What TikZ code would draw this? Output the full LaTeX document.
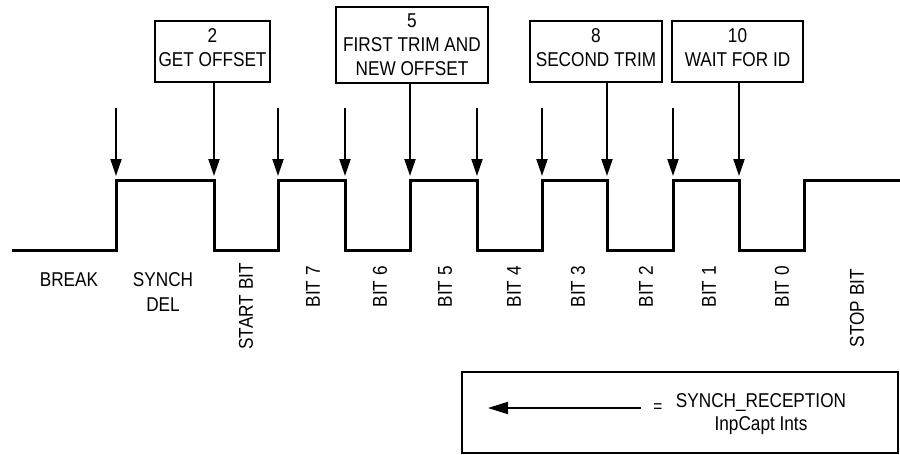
\documentclass[tikz,border=0pt]{standalone}
\usepackage{fontspec}
\setmainfont[FakeStretch=0.86]{Liberation Sans}
\usetikzlibrary{arrows.meta}
\newcommand\diagfont{\fontsize{20}{24}\selectfont}
\begin{document}
\begin{tikzpicture}[x=1pt,y=-1pt,
  wave/.style={line width=3pt, line join=miter},
  trig/.style={line width=2pt, -{Triangle[length=17pt,width=11pt]}},
  legtrig/.style={line width=2pt, -{Triangle[length=20pt,width=12pt]}},
  evbox/.style={draw, line width=2pt, inner sep=0pt, align=center, font=\diagfont, text depth=2pt},
  lbl/.style={inner sep=0pt, font=\diagfont},
  bitlbl/.style={inner sep=0pt, font=\diagfont, rotate=90, anchor=east},
]
\useasboundingbox (0,0) rectangle (900,455);

% serial frame waveform
\draw[wave] (12,250) -- (116,250) -- (116,180) -- (214,180) -- (214,250)
  -- (278,250) -- (278,180) -- (345,180) -- (345,250)
  -- (410,250) -- (410,180) -- (477,180) -- (477,250)
  -- (542,250) -- (542,180) -- (607,180) -- (607,250)
  -- (673,250) -- (673,180) -- (739,180) -- (739,250)
  -- (804,250) -- (804,180) -- (900,180);

% capture interrupt points on the signal edges
\coordinate (k1) at (116,176);  \coordinate (s1) at (116,108);
\coordinate (k2) at (214,176);
\coordinate (k3) at (278,176);  \coordinate (s3) at (278,108);
\coordinate (k4) at (345,176);  \coordinate (s4) at (345,108);
\coordinate (k5) at (410,176);
\coordinate (k6) at (477,176);  \coordinate (s6) at (477,108);
\coordinate (k7) at (542,176);  \coordinate (s7) at (542,108);
\coordinate (k8) at (607,176);
\coordinate (k9) at (673,176);  \coordinate (s9) at (673,108);
\coordinate (k10) at (739,176);

% state boxes (text box height/depth set so the lines sit as laid out)
\node[evbox, minimum width=115pt, minimum height=61pt, text height=31pt] (b2) at (212.5,51.5) {2\\GET OFFSET};
\node[evbox, minimum width=152pt, minimum height=76pt, text height=62pt] (b5) at (412,45) {5\\FIRST TRIM AND\\NEW OFFSET};
\node[evbox, minimum width=132pt, minimum height=61pt, text height=31pt] (b8) at (596,51.5) {8\\SECOND TRIM};
\node[evbox, minimum width=131pt, minimum height=61pt, text height=31pt] (b10) at (737.5,51.5) {10\\WAIT FOR ID};

% interrupt arrows
\draw[trig] (s1) -- (k1);
\draw[trig] (b2.south -| k2) -- (k2);
\draw[trig] (s3) -- (k3);
\draw[trig] (s4) -- (k4);
\draw[trig] (b5.south -| k5) -- (k5);
\draw[trig] (s6) -- (k6);
\draw[trig] (s7) -- (k7);
\draw[trig] (b8.south -| k8) -- (k8);
\draw[trig] (s9) -- (k9);
\draw[trig] (b10.south -| k10) -- (k10);

% field labels
\node[lbl, anchor=base] (lbreak) at (69,286) {BREAK};
\node[lbl, anchor=base, align=center] (lsynch) at (163,311) {SYNCH\\[1pt]DEL};
\node[bitlbl] (lstart) at (246,263) {START BIT};
\node[bitlbl] (lb7) at (313,266) {BIT 7};
\node[bitlbl] (lb6) at (380,266) {BIT 6};
\node[bitlbl] (lb5) at (445,266) {BIT 5};
\node[bitlbl] (lb4) at (514,266) {BIT 4};
\node[bitlbl] (lb3) at (578,266) {BIT 3};
\node[bitlbl] (lb2) at (646,266) {BIT 2};
\node[bitlbl] (lb1) at (709,266) {BIT 1};
\node[bitlbl] (lb0) at (782,266) {BIT 0};
\node[bitlbl] (lstop) at (857,269) {STOP BIT};

% legend
\node[draw, line width=2pt, minimum width=436pt, minimum height=81pt, inner sep=0pt] (legend) at (680,412.5) {};
\coordinate (la0) at (641,408);
\coordinate (la1) at (488,408);
\draw[legtrig] (la0) -- (la1);
\node[inner sep=0pt, font=\fontsize{18}{18}\selectfont] (leq) at (658,408) {=};
\node[lbl, anchor=base] (lsr) at (761,407) {SYNCH\_RECEPTION};
\node[lbl, anchor=base] (lic) at (761,430) {InpCapt Ints};
\end{tikzpicture}
\end{document}
